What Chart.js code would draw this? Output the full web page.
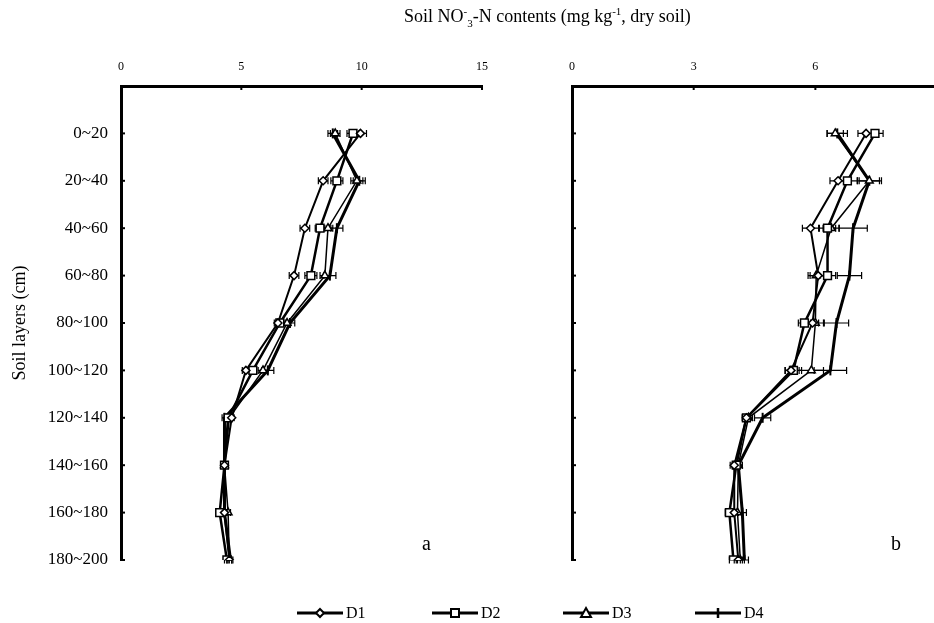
<!DOCTYPE html>
<html><head><meta charset="utf-8">
<script src="https://cdn.jsdelivr.net/npm/chart.js@4/dist/chart.umd.min.js"></script>
<style>
html,body{margin:0;padding:0;background:#fff;width:934px;height:623px;overflow:hidden;position:relative;font-family:"Liberation Serif","Times New Roman",serif;color:#000;}
#ca{position:absolute;left:0;top:0;}
#cb{position:absolute;left:490px;top:0;}
#title{position:absolute;left:404px;top:6px;font-size:18px;white-space:nowrap;}
#title sup,#title sub{font-size:11px;line-height:0;}
.pl{position:absolute;font-size:20px;line-height:20px;}
.lg{position:absolute;top:603px;height:20px;}
.lg canvas{position:absolute;left:0;top:0;}
.lg span{position:absolute;top:1px;font-size:16px;line-height:18px;}
</style></head>
<body>
<canvas id="ca" width="500" height="623"></canvas>
<canvas id="cb" width="450" height="623"></canvas>
<div id="title">Soil NO<sup>-</sup><sub>3</sub>-N contents (mg kg<sup>-1</sup>, dry soil)</div>
<div class="pl" style="left:422px;top:533px;">a</div>
<div class="pl" style="left:891px;top:533px;">b</div>
<div id="legend"></div>
<script>
// ---- data ----
const layers = ['0~20','20~40','40~60','60~80','80~100','100~120','120~140','140~160','160~180','180~200'];
const seriesNames = ['D1','D2','D3','D4'];
const xTicksA = [0,5,10,15];
const xTicksB = [0,3,6];

const aD1 = [9.95, 8.40, 7.64, 7.19, 6.52, 5.19, 4.60, 4.30, 4.30, 4.50];
const aD2 = [9.64, 8.97, 8.27, 7.89, 6.60, 5.48, 4.45, 4.30, 4.10, 4.40];
const aD3 = [8.90, 9.80, 8.60, 8.47, 6.90, 5.90, 4.50, 4.30, 4.45, 4.50];
const aD4 = [8.80, 9.90, 8.97, 8.68, 7.02, 6.10, 4.30, 4.30, 4.30, 4.55];
const aE1 = [0.25, 0.20, 0.20, 0.20, 0.15, 0.15, 0.10, 0.10, 0.10, 0.10];
const aE2 = [0.25, 0.25, 0.20, 0.25, 0.15, 0.15, 0.10, 0.10, 0.10, 0.10];
const aE3 = [0.20, 0.25, 0.20, 0.20, 0.15, 0.20, 0.10, 0.10, 0.10, 0.10];
const aE4 = [0.20, 0.25, 0.25, 0.25, 0.20, 0.25, 0.10, 0.10, 0.10, 0.10];

const bD1 = [7.25, 6.56, 5.88, 6.07, 5.93, 5.40, 4.30, 4.00, 4.00, 4.10];
const bD2 = [7.47, 6.79, 6.30, 6.30, 5.73, 5.46, 4.30, 4.05, 3.88, 3.98];
const bD3 = [6.49, 7.33, 6.39, 6.02, 6.00, 5.90, 4.35, 4.10, 4.08, 4.15];
const bD4 = [6.54, 7.33, 6.93, 6.84, 6.52, 6.37, 4.70, 4.10, 4.20, 4.25];
const bE1 = [0.20, 0.20, 0.20, 0.20, 0.15, 0.15, 0.10, 0.10, 0.10, 0.10];
const bE2 = [0.20, 0.25, 0.20, 0.20, 0.15, 0.20, 0.10, 0.10, 0.10, 0.10];
const bE3 = [0.20, 0.25, 0.20, 0.20, 0.20, 0.30, 0.10, 0.10, 0.10, 0.10];
const bE4 = [0.25, 0.30, 0.35, 0.30, 0.30, 0.40, 0.20, 0.10, 0.10, 0.10];

const FONT = '"Liberation Serif","Times New Roman",serif';

const styles = [
  {pointStyle:'rectRot', pointRadius:4, borderWidth:2},
  {pointStyle:'rect', pointRadius:5.5, borderWidth:2.5},
  {pointStyle:'triangle', pointRadius:4.5, borderWidth:1.5},
  {pointStyle:'line', pointRadius:5, borderWidth:3, pointRotation:90}
];

function makeDatasets(vals, errs){
  return vals.map((arr,k)=>({
    label: seriesNames[k],
    data: arr.map((v,i)=>({x:v, y:i+1})),
    errors: errs[k],
    borderColor:'#000',
    backgroundColor:'#fff',
    pointBackgroundColor:'#fff',
    pointBorderColor:'#000',
    pointBorderWidth: k===3 ? 2 : 1.5,
    borderWidth: styles[k].borderWidth,
    pointStyle: styles[k].pointStyle,
    pointRadius: styles[k].pointRadius,
    pointRotation: styles[k].pointRotation || 0,
    tension:0,
    fill:false
  }));
}

const errorBars = {
  id:'errorBars',
  beforeDatasetsDraw(chart){
    const {ctx, scales:{x,y}} = chart;
    ctx.save();
    ctx.strokeStyle='#000';
    ctx.lineWidth=1.2;
    chart.data.datasets.forEach(ds=>{
      ds.data.forEach((p,i)=>{
        const e = ds.errors[i];
        const py = y.getPixelForValue(p.y);
        const x1 = x.getPixelForValue(p.x - e), x2 = x.getPixelForValue(p.x + e);
        ctx.beginPath();
        ctx.moveTo(x1,py); ctx.lineTo(x2,py);
        ctx.moveTo(x1,py-3.5); ctx.lineTo(x1,py+3.5);
        ctx.moveTo(x2,py-3.5); ctx.lineTo(x2,py+3.5);
        ctx.stroke();
      });
    });
    ctx.restore();
  }
};

const innerTicks = {
  id:'innerTicks',
  afterDraw(chart){
    const {ctx, scales:{x,y}, chartArea} = chart;
    ctx.save();
    ctx.strokeStyle='#000';
    ctx.lineWidth=2;
    x.ticks.forEach(t=>{
      if (t.value===0) return;
      const px = x.getPixelForValue(t.value);
      ctx.beginPath(); ctx.moveTo(px, chartArea.top); ctx.lineTo(px, chartArea.top+4); ctx.stroke();
    });
    layers.forEach((l,i)=>{
      const py = y.getPixelForValue(i+1);
      ctx.beginPath(); ctx.moveTo(chartArea.left, py); ctx.lineTo(chartArea.left+4, py); ctx.stroke();
    });
    ctx.restore();
  }
};

function makeChart(id, vals, errs, xmax, xticks, leftW, showY, rightPad){
  return new Chart(document.getElementById(id), {
    type:'line',
    data:{datasets: makeDatasets(vals, errs)},
    plugins:[errorBars, innerTicks],
    options:{
      responsive:false,
      animation:false,
      layout:{padding:{left:0, top:0, right:rightPad, bottom:63}},
      plugins:{legend:{display:false}, tooltip:{enabled:false}},
      scales:{
        x:{
          type:'linear', position:'top', min:0, max:xmax,
          afterBuildTicks(s){ s.ticks = xticks.map(v=>({value:v})); },
          afterFit(s){ s.height = 86; s.paddingLeft = 0; s.paddingRight = 0; },
          grid:{display:false, drawTicks:false},
          border:{display:true, width:3, color:'#000'},
          ticks:{color:'#000', font:{family:FONT, size:12}, padding:12, maxRotation:0}
        },
        y:{
          type:'linear', position:'left', reverse:true, min:0, max:10,
          afterBuildTicks(s){ s.ticks = layers.map((l,i)=>({value:i+1})); },
          afterFit(s){ s.width = leftW; },
          grid:{display:false, drawTicks:false},
          border:{display:true, width:3, color:'#000'},
          ticks:{display:showY, color:'#000', font:{family:FONT, size:17}, padding:13,
                 callback:(v)=> layers[v-1] || ''},
          title:{display:showY, text:'Soil layers (cm)', color:'#000', font:{family:FONT, size:18}, padding:{top:9,bottom:0}}
        }
      }
    }
  });
}

makeChart('ca', [aD1,aD2,aD3,aD4], [aE1,aE2,aE3,aE4], 15, xTicksA, 121, true, 18);
makeChart('cb', [bD1,bD2,bD3,bD4], [bE1,bE2,bE3,bE4], 8.9, xTicksB, 82, false, 0);

// ---- legend ----
const legendPos = [297, 432, 563, 695];
const legendDiv = document.getElementById('legend');
seriesNames.forEach((name,k)=>{
  const item = document.createElement('div');
  item.className='lg';
  item.style.left = legendPos[k]+'px';
  const c = document.createElement('canvas');
  c.width=48; c.height=20;
  item.appendChild(c);
  const sp = document.createElement('span');
  sp.style.left='49px';
  sp.textContent=name;
  item.appendChild(sp);
  legendDiv.appendChild(item);
  const g = c.getContext('2d');
  const cy = 10, cx = 23;
  g.strokeStyle='#000'; g.fillStyle='#fff'; g.lineWidth=3;
  g.beginPath(); g.moveTo(0,cy); g.lineTo(46,cy); g.stroke();
  g.lineWidth=2;
  g.beginPath();
  if (k===0){ g.moveTo(cx,cy-4); g.lineTo(cx+4,cy); g.lineTo(cx,cy+4); g.lineTo(cx-4,cy); g.closePath(); g.fill(); g.stroke(); }
  else if (k===1){ g.rect(cx-4,cy-4,8,8); g.fill(); g.stroke(); }
  else if (k===2){ g.moveTo(cx,cy-5); g.lineTo(cx+5,cy+4); g.lineTo(cx-5,cy+4); g.closePath(); g.fill(); g.stroke(); }
  else { g.lineWidth=2.5; g.moveTo(cx,cy-5); g.lineTo(cx,cy+5); g.stroke(); }
});
</script>
</body></html>
